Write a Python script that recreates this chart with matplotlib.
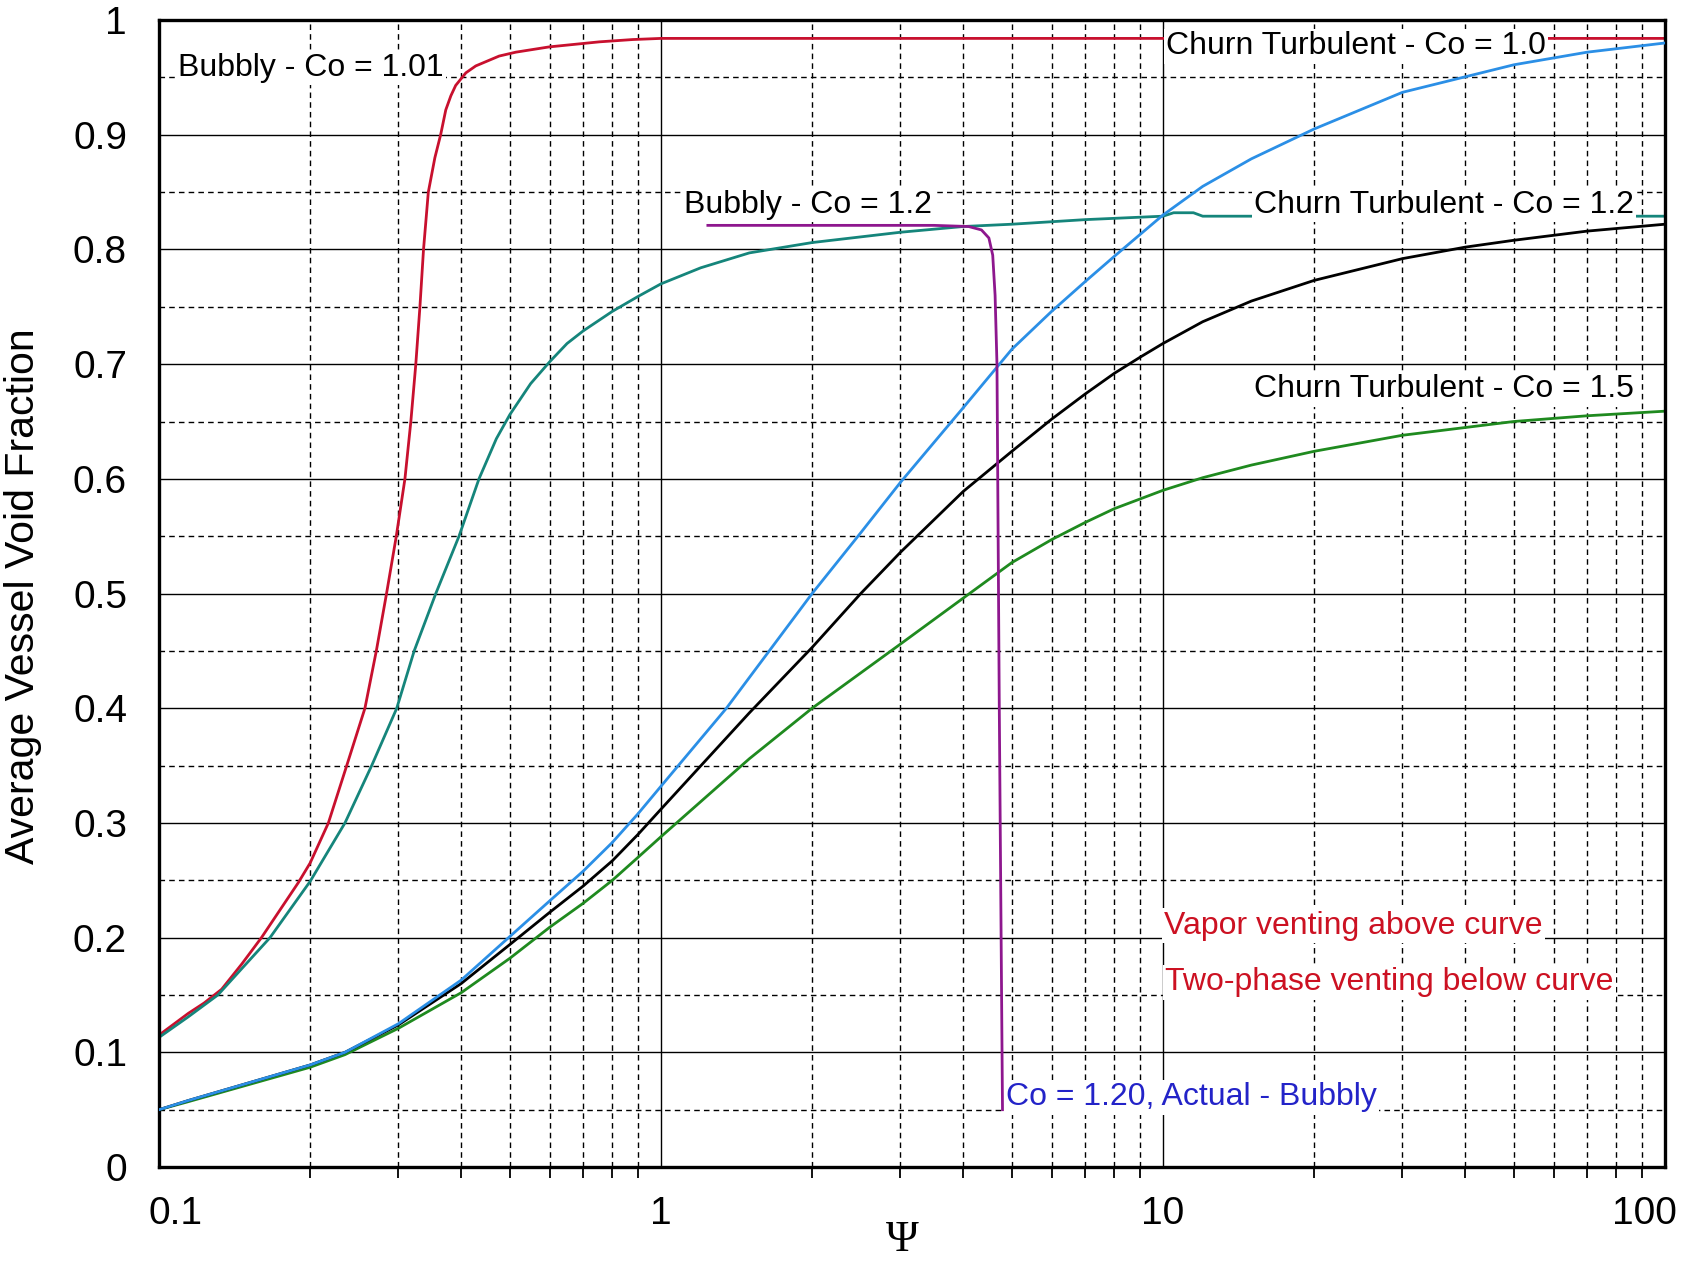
import matplotlib
matplotlib.use("Agg")
import matplotlib.pyplot as plt
from matplotlib.ticker import FixedLocator, LogLocator, NullFormatter
from matplotlib.transforms import ScaledTranslation

plt.rcParams["font.family"] = ["Liberation Sans", "DejaVu Sans"]

# ---- curves: x = Psi, y = average vessel void fraction ----
# red: Bubbly Co = 1.01 / Churn Turbulent Co = 1.0 (one curve, label sits on it)
red_x = [0.1, 0.1144, 0.123, 0.1333, 0.1462, 0.16, 0.1895, 0.2, 0.2175, 0.2366, 0.2572,
         0.271, 0.284, 0.297, 0.309, 0.3175, 0.3248, 0.331, 0.3365, 0.344, 0.3545, 0.364,
         0.3727, 0.3815, 0.39, 0.4087, 0.4276, 0.476, 0.514, 0.599, 0.754, 0.878, 1.0, 100.0]
red_y = [0.115, 0.134, 0.143, 0.155, 0.177, 0.2, 0.248, 0.265, 0.3, 0.35, 0.4,
         0.45, 0.5, 0.55, 0.6, 0.65, 0.7, 0.75, 0.8, 0.85, 0.88, 0.9,
         0.9217, 0.934, 0.943, 0.954, 0.96, 0.9686, 0.972, 0.9766, 0.981, 0.983, 0.984, 0.984]

# teal: Churn Turbulent Co = 1.2
teal_x = [0.1, 0.1144, 0.131, 0.1462, 0.1664, 0.2, 0.2347, 0.2653, 0.2976, 0.3224, 0.356,
          0.396, 0.434, 0.47, 0.5, 0.55, 0.6, 0.65, 0.7, 0.8, 0.9, 1.0, 1.2, 1.5, 2.0,
          3.0, 4.0, 5.0, 7.0, 10.0, 10.5, 11.5, 12.0, 100.0]
teal_y = [0.113, 0.131, 0.15, 0.173, 0.2, 0.249, 0.3, 0.35, 0.4, 0.45, 0.5,
          0.55, 0.6, 0.635, 0.656, 0.683, 0.702, 0.718, 0.729, 0.746, 0.759, 0.77, 0.784,
          0.797, 0.806, 0.815, 0.82, 0.822, 0.826, 0.829, 0.832, 0.832, 0.829, 0.829]

# purple: Co = 1.20, actual - bubbly
purple_x = [1.24, 3.5, 4.1, 4.35, 4.5, 4.58, 4.63, 4.67, 4.72, 4.79]
purple_y = [0.821, 0.821, 0.82, 0.817, 0.81, 0.795, 0.76, 0.70, 0.40, 0.05]

blue_x = [0.1, 0.1144, 0.2, 0.2347, 0.3, 0.4, 0.5, 0.6, 0.7, 0.8, 0.9, 1.0, 1.35, 2.0,
          2.5, 3.0, 4.0, 5.0, 6.0, 7.0, 8.0, 9.0, 10.0, 12.0, 15.0, 20.0, 30.0, 50.0,
          70.0, 100.0]
blue_y = [0.05, 0.058, 0.089, 0.1, 0.125, 0.163, 0.201, 0.232, 0.258, 0.283, 0.308, 0.332,
          0.4, 0.5, 0.553, 0.597, 0.662, 0.713, 0.746, 0.772, 0.794, 0.813, 0.83, 0.855,
          0.879, 0.905, 0.937, 0.961, 0.972, 0.98]

black_x = [0.1, 0.1144, 0.2, 0.2347, 0.3, 0.4, 0.5, 0.6, 0.7, 0.8, 0.9, 1.0, 1.5, 2.0,
           2.5, 3.0, 4.0, 5.0, 6.0, 7.0, 8.0, 9.0, 10.0, 12.0, 15.0, 20.0, 30.0, 40.0,
           50.0, 70.0, 100.0]
black_y = [0.05, 0.058, 0.089, 0.1, 0.124, 0.16, 0.194, 0.222, 0.245, 0.267, 0.29, 0.312,
           0.396, 0.453, 0.5, 0.536, 0.589, 0.624, 0.652, 0.674, 0.692, 0.706, 0.718, 0.737,
           0.755, 0.773, 0.792, 0.802, 0.808, 0.816, 0.822]

green_x = [0.1, 0.1144, 0.2, 0.2347, 0.3, 0.4, 0.5, 0.6, 0.7, 0.8, 0.9, 1.0, 1.5, 2.0,
           3.0, 4.0, 5.0, 6.0, 7.0, 8.0, 10.0, 12.0, 15.0, 20.0, 30.0, 50.0, 70.0, 100.0]
green_y = [0.05, 0.057, 0.087, 0.098, 0.121, 0.152, 0.182, 0.209, 0.23, 0.25, 0.27, 0.288,
           0.356, 0.4, 0.456, 0.496, 0.527, 0.547, 0.562, 0.574, 0.59, 0.601, 0.612, 0.624,
           0.638, 0.65, 0.655, 0.659]

x_major = [0.1, 1, 10, 100]
x_major_labels = ["0.1", "1", "10", "100"]
y_major = [0.0, 0.1, 0.2, 0.3, 0.4, 0.5, 0.6, 0.7, 0.8, 0.9, 1.0]
y_major_labels = ["0", "0.1", "0.2", "0.3", "0.4", "0.5", "0.6", "0.7", "0.8", "0.9", "1"]
y_minor = [0.05, 0.15, 0.25, 0.35, 0.45, 0.55, 0.65, 0.75, 0.85, 0.95]

fig = plt.figure(figsize=(16.84, 12.61), dpi=100)
ax = fig.add_axes([0.0944, 0.0745, 0.8943, 0.9096])

lw = 2.0
ax.plot(red_x, red_y, color="#c8102e", lw=lw, zorder=2)
ax.plot(teal_x, teal_y, color="#15857b", lw=lw, zorder=2)
ax.plot(green_x, green_y, color="#1f8a1f", lw=lw, zorder=2)
ax.plot(black_x, black_y, color="black", lw=lw, zorder=2)
ax.plot(blue_x, blue_y, color="#2b8fe6", lw=lw, zorder=4)
ax.plot(purple_x, purple_y, color="#8e178e", lw=lw, zorder=4)

ax.set_xscale("log")
ax.set_xlim(0.1, 100)
ax.set_ylim(0, 1)

ax.xaxis.set_major_locator(FixedLocator(x_major))
ax.xaxis.set_minor_locator(LogLocator(base=10, subs=range(2, 10)))
ax.xaxis.set_major_formatter(NullFormatter())
ax.xaxis.set_minor_formatter(NullFormatter())
ax.yaxis.set_major_locator(FixedLocator(y_major))
ax.yaxis.set_minor_locator(FixedLocator(y_minor))
ax.set_yticklabels(y_major_labels)

ax.set_axisbelow(True)
ax.grid(which="major", color="black", lw=1.0, ls="-")
ax.grid(which="minor", color="black", lw=1.0, ls=(0, (4, 3)))
ax.tick_params(which="major", length=0)
ax.tick_params(axis="y", which="major", labelsize=28, pad=23)
ax.tick_params(axis="y", which="minor", length=0)
ax.tick_params(axis="x", which="minor", direction="out", length=8, width=1.3)
for s in ax.spines.values():
    s.set_linewidth(2.4)

# x tick labels placed by hand: the end labels are nudged inside the frame
x_off = {"0.1": 12, "1": 0, "10": 0, "100": -15}
for xv, lab in zip(x_major, x_major_labels):
    tr = ax.get_xaxis_transform() + ScaledTranslation(x_off[lab] / 72, -41 / 72, fig.dpi_scale_trans)
    ax.text(xv, 0, lab, transform=tr, ha="center", va="baseline", fontsize=28)

fig.text(23 / 1684, 1 - 596 / 1261, "Average Vessel Void Fraction", rotation=90,
         ha="center", va="center", fontsize=29.5)
fig.text(902 / 1684, 1 - 1240 / 1261, "Ψ", ha="center", va="center",
         fontsize=32, family=["Liberation Serif", "DejaVu Serif"])

box = dict(facecolor="white", edgecolor="none", pad=1.5)
fs = 23
ax.text(0.109, 0.958, "Bubbly - Co = 1.01", fontsize=fs, va="center", bbox=box, zorder=3)
ax.text(10.15, 0.977, "Churn Turbulent - Co = 1.0", fontsize=fs, va="center", bbox=box, zorder=3)
ax.text(1.11, 0.839, "Bubbly - Co = 1.2", fontsize=fs, va="center", bbox=box, zorder=3)
ax.text(15.2, 0.839, "Churn Turbulent - Co = 1.2", fontsize=fs, va="center", bbox=box, zorder=3)
ax.text(15.2, 0.678, "Churn Turbulent - Co = 1.5", fontsize=fs, va="center", bbox=box, zorder=3)
ax.text(10.05, 0.2105, "Vapor venting above curve", fontsize=fs, va="center",
        color="#cc1122", bbox=box, zorder=3)
ax.text(10.1, 0.161, "Two-phase venting below curve", fontsize=fs, va="center",
        color="#cc1122", bbox=box, zorder=3)
ax.text(4.87, 0.0608, "Co = 1.20, Actual - Bubbly", fontsize=fs, va="center",
        color="#2323c8", bbox=box, zorder=3)

fig.savefig("out.png", dpi=100)
